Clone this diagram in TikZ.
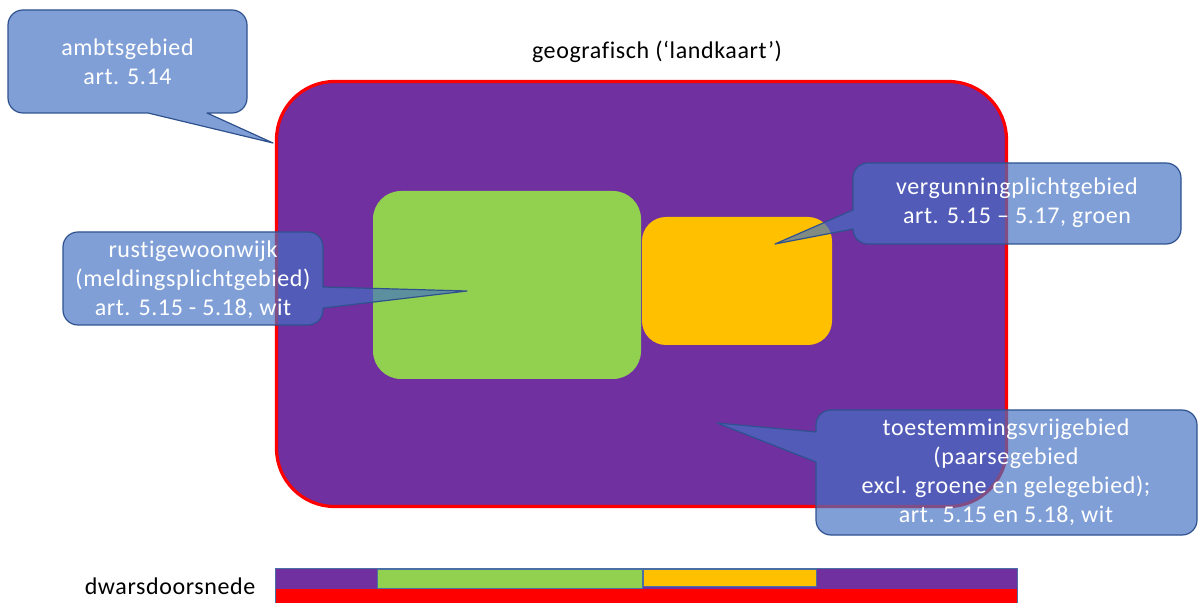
\documentclass[tikz,border=0pt]{standalone}
\usepackage{fontspec}
\setmainfont[Ligatures=NoCommon, LetterSpace=2.5]{Carlito}
\definecolor{areapurple}{HTML}{7030A0}
\definecolor{areagreen}{HTML}{92D050}
\definecolor{areaorange}{HTML}{FFC000}
\definecolor{areared}{HTML}{FF0000}
\definecolor{callblue}{HTML}{4472C4}
\definecolor{calledge}{HTML}{2F528F}
\definecolor{baredge}{HTML}{4A6FA5}
\begin{document}
\begin{tikzpicture}[x=0.5pt,y=-0.5pt,
  callout/.style={fill=callblue, fill opacity=0.68, draw=calledge, line width=0.6pt, line join=round},
  calltext/.style={text=white, align=center, font=\fontsize{12}{14.5}\selectfont, inner sep=0pt},
  plaintext/.style={text=black, font=\fontsize{12}{14.5}\selectfont, inner sep=0pt},
  barpart/.style={draw=baredge, line width=0.5pt}]
\useasboundingbox (0,0) rectangle (1198,603);

% map view
\draw[fill=areapurple, draw=areared, line width=1.6pt, rounded corners=29pt]
  (276.5,81.5) rectangle (1006.5,506.5);
\fill[areagreen, rounded corners=14pt] (373,191) rectangle (641,379);
\fill[areaorange, rounded corners=12pt] (642,217) rectangle (832,345);

\node[plaintext] (title) at (657,52) {geografisch (‘landkaart’)};

% callout: ambtsgebied
\path[callout] (23,10) -- (232,10) .. controls (240.3,10) and (247,16.7) .. (247,25)
  -- (247,98) .. controls (247,106.3) and (240.3,113) .. (232,113)
  -- (207,113) -- (273,143) -- (148,113)
  -- (23,113) .. controls (14.7,113) and (8,106.3) .. (8,98)
  -- (8,25) .. controls (8,16.7) and (14.7,10) .. (23,10) -- cycle;
\node[calltext] (ambt) at (127.5,62) {ambtsgebied\\art. 5.14};

% callout: rustige woonwijk
\path[callout] (78,232) -- (308,232) .. controls (316.3,232) and (323,238.7) .. (323,247)
  -- (323,287) -- (467,291) -- (323,308)
  -- (323,310) .. controls (323,318.3) and (316.3,325) .. (308,325)
  -- (78,325) .. controls (69.7,325) and (63,318.3) .. (63,310)
  -- (63,247) .. controls (63,238.7) and (69.7,232) .. (78,232) -- cycle;
\node[calltext] (rust) at (193,280) {rustigewoonwijk\\(meldingsplichtgebied)\\art. 5.15 - 5.18, wit};

% callout: vergunningplichtgebied
\path[callout] (868,163) -- (1166,163) .. controls (1174.3,163) and (1181,169.7) .. (1181,178)
  -- (1181,229) .. controls (1181,237.3) and (1174.3,244) .. (1166,244)
  -- (868,244) .. controls (859.7,244) and (853,237.3) .. (853,229)
  -- (775,244) -- (853,210)
  -- (853,178) .. controls (853,169.7) and (859.7,163) .. (868,163) -- cycle;
\node[calltext] (verg) at (1017,203) {vergunningplichtgebied\\art. 5.15 – 5.17, groen};

% callout: toestemmingsvrij gebied
\path[callout] (831,410) -- (1182,410) .. controls (1190.3,410) and (1197,416.7) .. (1197,425)
  -- (1197,520) .. controls (1197,528.3) and (1190.3,535) .. (1182,535)
  -- (831,535) .. controls (822.7,535) and (816,528.3) .. (816,520)
  -- (816,462) -- (717,423) -- (816,432)
  -- (816,425) .. controls (816,416.7) and (822.7,410) .. (831,410) -- cycle;
\node[calltext] (toest) at (1006,472) {toestemmingsvrijgebied\\(paarsegebied\\excl. groene en gelegebied);\\art. 5.15 en 5.18, wit};

% cross-section
\node[plaintext] (dwars) at (170,586) {dwarsdoorsnede};
\fill[areared] (275,588) rectangle (1017,606);
\fill[areapurple] (275,568) rectangle (1017,588.5);
\draw[barpart, fill=areagreen] (377,569) rectangle (642,588);
\draw[barpart, fill=areaorange] (643,569) rectangle (816,586);
\draw[barpart] (275,606) -- (275,568) -- (1017,568) -- (1017,606);
\end{tikzpicture}
\end{document}
